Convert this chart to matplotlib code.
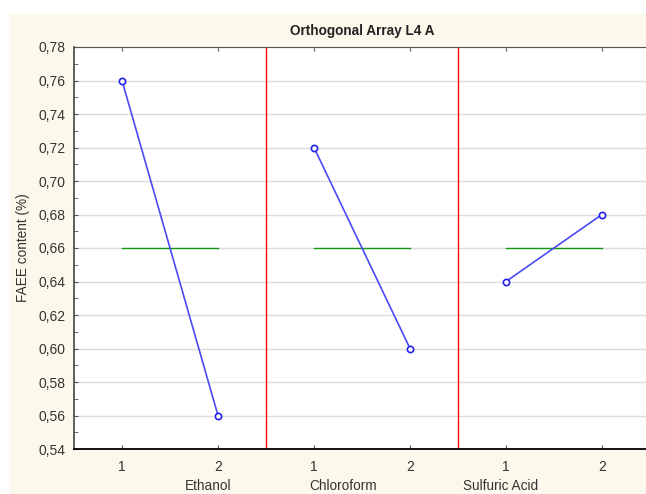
import matplotlib
matplotlib.use("Agg")
import matplotlib.pyplot as plt
from matplotlib.patches import Rectangle
from matplotlib.ticker import FuncFormatter, MultipleLocator

# --- data ---
factors = ["Ethanol", "Chloroform", "Sulfuric Acid"]
levels = ["1", "2"]
level1 = [0.76, 0.72, 0.64]
level2 = [0.56, 0.60, 0.68]
grand_mean = 0.66

plt.rcParams['font.family'] = ['Liberation Sans', 'DejaVu Sans']

fig = plt.figure(figsize=(6.46, 4.94), dpi=100)
fig.patch.set_facecolor('white')
fig.patches.append(Rectangle((10/646, 0), 1, 1 - 14/494, transform=fig.transFigure,
                             facecolor='#FDF8EC', edgecolor='none', zorder=-10))

ax = fig.add_axes([74/646, 45/494, 576/646, 402/494])
ax.set_facecolor('white')

for i, f in enumerate(factors):
    x0 = 2 * i
    ax.plot([x0, x0 + 1], [grand_mean, grand_mean], color='#119911', lw=1, zorder=2)
    ax.plot([x0, x0 + 1], [level1[i], level2[i]], color='#4A4AF5', lw=1.2,
            marker='o', ms=4.5, mfc='white', mec='#2222EE', mew=1.2, zorder=3)
    if i > 0:
        ax.axvline(x0 - 0.5, color='#FF0000', lw=1, zorder=2)

ax.set_xlim(-0.5, 5.5)
ax.set_ylim(0.54, 0.78)
ax.yaxis.set_major_locator(MultipleLocator(0.02))
ax.yaxis.set_minor_locator(MultipleLocator(0.01))
ax.yaxis.set_major_formatter(FuncFormatter(lambda v, p: f"{v:.2f}".replace('.', ',')))
ax.set_xticks(range(6))
ax.set_xticklabels(levels * 3)
ax.grid(axis='y', color='#DCDCDC', lw=1, zorder=0)

ax.tick_params(axis='y', which='both', direction='in', length=3, color='#555555',
               labelsize=10, labelcolor='#333333', pad=6)
ax.tick_params(axis='x', which='major', direction='in', length=3, top=True, color='#555555',
               labelsize=10, labelcolor='#333333', pad=8)

ax.spines['top'].set_color('#555555')
ax.spines['left'].set_color('#444444')
ax.spines['right'].set_visible(False)
ax.spines['left'].set_linewidth(1.2)
ax.spines['bottom'].set_linewidth(1.3)

ax.set_title("Orthogonal Array L4 A", fontsize=9.8, fontweight='bold', color='#222222', pad=9)
ax.set_ylabel("FAEE content (%)", fontsize=9.8, color='#333333', labelpad=6)

group_x = [0.9, 2.3, 3.94]
for gx, f in zip(group_x, factors):
    ax.text(gx, -0.093, f, transform=ax.get_xaxis_transform(), ha='center', va='center',
            fontsize=9.8, color='#333333')

fig.savefig("out.png", dpi=100)
